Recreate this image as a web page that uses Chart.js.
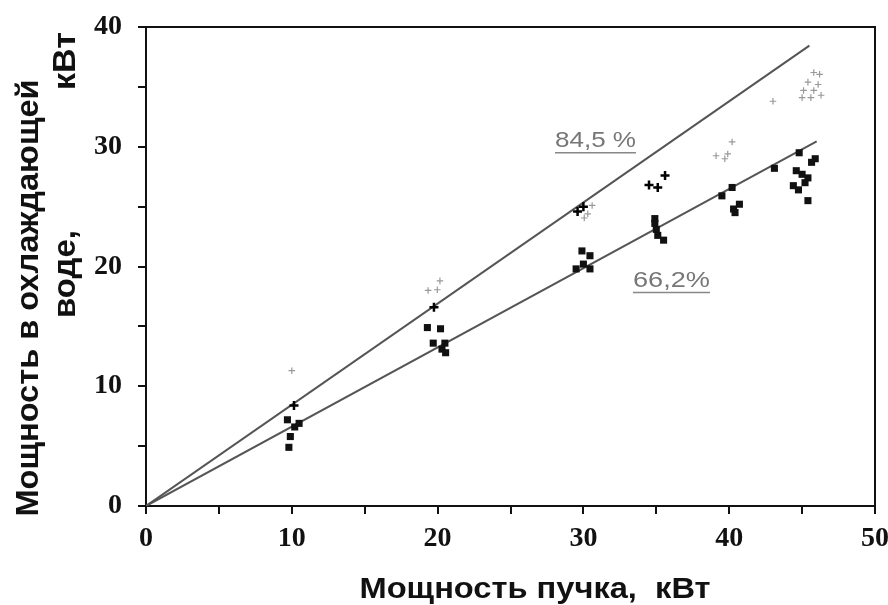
<!DOCTYPE html>
<html>
<head>
<meta charset="utf-8">
<script src="https://cdn.jsdelivr.net/npm/chart.js@4.4.1/dist/chart.umd.min.js"></script>
<style>
  html, body { margin: 0; padding: 0; background: #fff; }
  #wrap { width: 888px; height: 605px; }
</style>
</head>
<body>
<div id="wrap"><canvas id="myChart"></canvas></div>
<script>
// beam power (kW) -> power carried off by cooling water (kW)
const xTickLabels = [0, 10, 20, 30, 40, 50];
const yTickLabels = [0, 10, 20, 30, 40];

const fitHighX = [0, 45.5];
const fitHighY = [0, 38.45];
const fitLowX = [0, 46];
const fitLowY = [0, 30.45];
const fitLabels = ["84,5 %", "66,2%"];

// light grey crosses
const greyCrossX = [10.0, 19.35, 19.98, 20.16, 30.06, 30.6, 30.3, 39.1, 39.7, 39.9, 40.2, 43.0,
  45.8, 46.2, 45.4, 46.1, 45.1, 45.8, 45.0, 45.6, 46.3];
const greyCrossY = [11.3, 18.0, 18.06, 18.8, 24.05, 25.1, 24.4, 29.25, 29.0, 29.4, 30.4, 33.8,
  36.2, 36.05, 35.4, 35.2, 34.7, 34.7, 34.1, 34.1, 34.3];

// black crosses
const blackCrossX = [10.15, 19.75, 29.6, 30.0, 34.5, 35.1, 35.6];
const blackCrossY = [8.4, 16.6, 24.6, 25.0, 26.8, 26.6, 27.6];

// black squares
const squareX = [9.7, 10.2, 10.5, 9.9, 9.8, 19.3, 20.2, 19.7, 20.5, 20.55, 20.3,
  29.9, 30.45, 29.5, 30.0, 30.45, 34.9, 35.0, 35.1, 35.5, 34.9,
  39.5, 40.2, 40.7, 40.4, 40.3, 43.1,
  44.8, 45.9, 45.65, 44.6, 45.0, 45.4, 44.4, 44.75, 45.4, 45.2];
const squareY = [7.2, 6.6, 6.9, 5.8, 4.9, 14.9, 14.8, 13.6, 13.6, 12.8, 13.1,
  21.3, 20.9, 19.8, 20.2, 19.8, 24.0, 23.1, 22.6, 22.2, 23.6,
  25.9, 26.6, 25.2, 24.5, 24.8, 28.2,
  29.5, 29.0, 28.7, 28.0, 27.7, 27.4, 26.75, 26.4, 25.5, 27.0];

const xTitle = "Мощность пучка,  кВт";
const yTitleOuter = "Мощность в охлаждающей";
const yTitleInner = ["воде,", "кВт"];

function toPoints(xs, ys) {
  return xs.map((x, i) => ({ x: x, y: ys[i] }));
}

// draws text centred on (x, y), squeezed to the given length
function drawFitted(ctx, text, x, y, width) {
  const w = ctx.measureText(text).width;
  ctx.save();
  ctx.translate(x, y);
  ctx.scale(width / w, 1);
  ctx.fillText(text, 0, 0);
  ctx.restore();
}

const chartDecor = {
  id: "chartDecor",
  afterDraw(chart) {
    const { ctx, chartArea: a, scales } = chart;
    ctx.save();

    // top and right edge of the frame
    ctx.strokeStyle = "#111";
    ctx.lineWidth = 2;
    ctx.beginPath();
    ctx.moveTo(a.left, a.top);
    ctx.lineTo(a.right, a.top);
    ctx.lineTo(a.right, a.bottom);
    ctx.stroke();

    // percentage labels next to the lines
    ctx.fillStyle = "#777";
    ctx.strokeStyle = "#888";
    ctx.lineWidth = 1.5;
    ctx.font = "22px 'Liberation Sans'";
    ctx.textAlign = "center";
    ctx.textBaseline = "middle";
    const labelPos = [[30.83, 30.5, 81], [36.04, 18.83, 77]];
    labelPos.forEach((p, i) => {
      const px = scales.x.getPixelForValue(p[0]);
      const py = scales.y.getPixelForValue(p[1]);
      drawFitted(ctx, fitLabels[i], px, py, p[2]);
      ctx.beginPath();
      ctx.moveTo(px - p[2] / 2, py + 12);
      ctx.lineTo(px + p[2] / 2, py + 12);
      ctx.stroke();
    });

    // axis titles
    ctx.fillStyle = "#111";
    ctx.textBaseline = "alphabetic";
    ctx.font = "bold 30px 'Liberation Sans'";
    drawFitted(ctx, xTitle, 535, 598, 351);

    ctx.font = "bold 32px 'Liberation Sans'";
    ctx.save();
    ctx.translate(38, 298);
    ctx.rotate(-Math.PI / 2);
    drawFitted(ctx, yTitleOuter, 0, 0, 437);
    ctx.restore();

    ctx.save();
    ctx.translate(75, 274);
    ctx.rotate(-Math.PI / 2);
    drawFitted(ctx, yTitleInner[0], 0, 0, 88);
    ctx.restore();

    ctx.save();
    ctx.translate(75, 61);
    ctx.rotate(-Math.PI / 2);
    drawFitted(ctx, yTitleInner[1], 0, 0, 58);
    ctx.restore();

    ctx.restore();
  },
};

const tickFont = { family: "'Liberation Serif'", weight: "bold", size: 28 };

new Chart(document.getElementById("myChart").getContext("2d"), {
  type: "scatter",
  data: {
    datasets: [
      {
        label: "squares",
        data: toPoints(squareX, squareY),
        pointStyle: "rect",
        pointRadius: 5,
        backgroundColor: "#111",
        borderWidth: 0,
      },
      {
        label: "black crosses",
        data: toPoints(blackCrossX, blackCrossY),
        pointStyle: "cross",
        pointRadius: 4.5,
        borderColor: "#000",
        borderWidth: 2.5,
      },
      {
        label: "grey crosses",
        data: toPoints(greyCrossX, greyCrossY),
        pointStyle: "cross",
        pointRadius: 3.3,
        borderColor: "#999",
        borderWidth: 1.2,
      },
      {
        label: fitLabels[0],
        data: toPoints(fitHighX, fitHighY),
        showLine: true,
        pointRadius: 0,
        borderColor: "#555",
        borderWidth: 2,
      },
      {
        label: fitLabels[1],
        data: toPoints(fitLowX, fitLowY),
        showLine: true,
        pointRadius: 0,
        borderColor: "#555",
        borderWidth: 2,
      },
    ],
  },
  options: {
    responsive: true,
    maintainAspectRatio: false,
    animation: false,
    events: [],
    layout: { padding: { top: 27, right: 13, left: 0, bottom: 0 } },
    plugins: {
      legend: { display: false },
      tooltip: { enabled: false },
    },
    scales: {
      x: {
        type: "linear",
        min: 0,
        max: 50,
        afterFit: (scale) => {
          scale.height = 99;
          // tick labels may hang over the frame, as in the original
          scale.paddingLeft = 0;
          scale.paddingRight = 0;
        },
        ticks: {
          stepSize: 5,
          autoSkip: false,
          maxRotation: 0,
          padding: 8,
          color: "#111",
          font: tickFont,
          callback: (v) => (xTickLabels.includes(v) ? v : ""),
        },
        grid: { drawOnChartArea: false, drawTicks: true, tickLength: 8, color: "#111", lineWidth: 2 },
        border: { color: "#111", width: 2 },
      },
      y: {
        type: "linear",
        min: 0,
        max: 40,
        afterFit: (scale) => {
          scale.width = 146;
          scale.paddingTop = 0;
          scale.paddingBottom = 0;
        },
        ticks: {
          stepSize: 5,
          autoSkip: false,
          padding: 16,
          color: "#111",
          font: tickFont,
          callback: (v) => (yTickLabels.includes(v) ? v : ""),
        },
        grid: { drawOnChartArea: false, drawTicks: true, tickLength: 8, color: "#111", lineWidth: 2 },
        border: { color: "#111", width: 2 },
      },
    },
  },
  plugins: [chartDecor],
});
</script>
</body>
</html>
